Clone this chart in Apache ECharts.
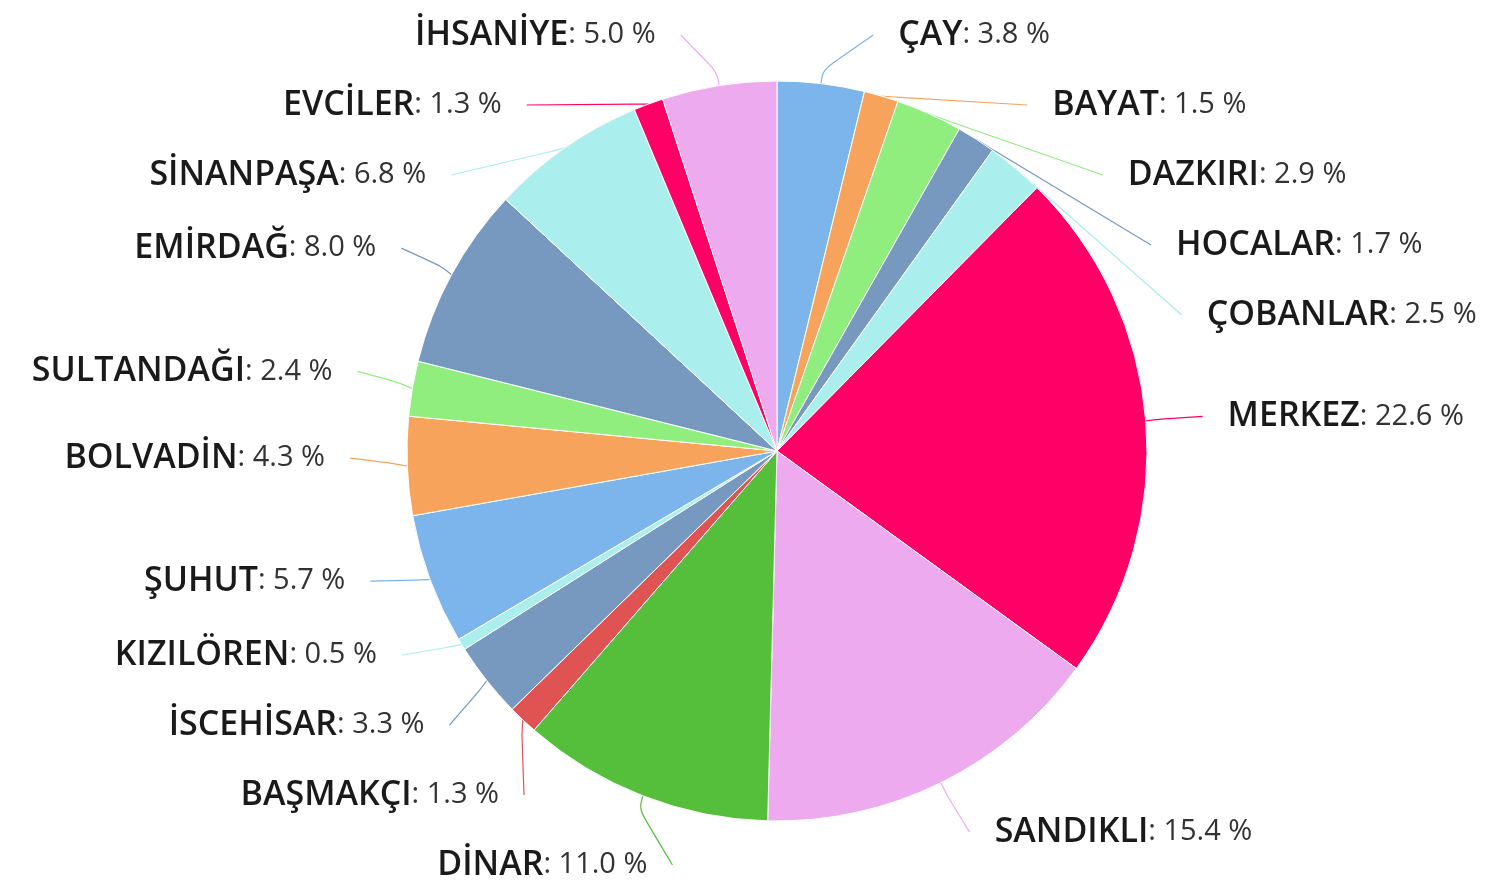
<!DOCTYPE html>
<html lang="tr">
<head>
    <meta charset="UTF-8">
    <title>Pie</title>
    <script src="https://cdn.jsdelivr.net/npm/echarts@6/dist/echarts.min.js"></script>
    <style>
        html, body { margin: 0; padding: 0; background: #fff; overflow: hidden; }
        #main { width: 1501px; height: 880px; }
    </style>
</head>
<body>
<div id="main"></div>
<script type="text/javascript">
    // ilçe adları (saat yönünde, tepeden başlayarak)
    var districts = ['ÇAY', 'BAYAT', 'DAZKIRI', 'HOCALAR', 'ÇOBANLAR', 'MERKEZ', 'SANDIKLI', 'DİNAR',
        'BAŞMAKÇI', 'İSCEHİSAR', 'KIZILÖREN', 'ŞUHUT', 'BOLVADİN', 'SULTANDAĞI', 'EMİRDAĞ',
        'SİNANPAŞA', 'EVCİLER', 'İHSANİYE'];
    // yüzde payları
    var shares = [3.8, 1.5, 2.9, 1.7, 2.5, 22.6, 15.4, 11.0, 1.3, 3.3, 0.5, 5.7, 4.3, 2.4, 8.0, 6.8, 1.3, 5.0];

    var palette = ['#7cb5ec', '#f7a35c', '#90ee7e', '#7798BF', '#aaeeee', '#ff0066',
        '#eeaaee', '#55BF3B', '#DF5353', '#7798BF', '#aaeeee'];

    var pieData = districts.map(function (name, i) {
        return { name: name, value: shares[i] };
    });

    // pasta merkezi ve etiket çemberi
    var CX = 777, CY = 451, RAD = 370;
    var LABEL_R = 427, GAP = 25;
    var TOP_OFF = 16;

    var myChart = echarts.init(document.getElementById('main'));

    var option = {
        backgroundColor: '#fff',
        color: palette,
        animation: false,
        series: [
            {
                type: 'pie',
                top: -TOP_OFF,
                bottom: -20,
                center: [CX, CY + TOP_OFF],
                radius: RAD,
                startAngle: 90,
                clockwise: true,
                avoidLabelOverlap: true,
                itemStyle: {
                    borderColor: '#fff',
                    borderWidth: 1
                },
                label: {
                    show: true,
                    position: 'outside',
                    alignTo: 'none',
                    distanceToLabelLine: 15,
                    lineHeight: 68,
                    formatter: function (p) {
                        return '{n|' + p.name + '}{v|: ' + p.value.toFixed(1) + ' %}';
                    },
                    rich: {
                        n: {
                            fontFamily: 'Open Sans',
                            fontWeight: 600,
                            fontSize: 34,
                            color: '#1a1a1a',
                            lineHeight: 68
                        },
                        v: {
                            fontFamily: 'Open Sans',
                            fontWeight: 'normal',
                            fontSize: 29,
                            color: '#333',
                            lineHeight: 68
                        }
                    }
                },
                labelLine: {
                    show: true,
                    length: 55,
                    length2: 12,
                    smooth: 0.35,
                    lineStyle: { width: 1.2 }
                },
                // etiketleri dış çember üzerine yerleştir (highcharts tarzı)
                labelLayout: function (params) {
                    var pts = params.labelLinePoints;
                    var rect = params.labelRect;
                    if (!pts) return {};
                    var isLeft = pts[2][0] < pts[0][0];
                    var y = rect.y + rect.height / 2;
                    var dy = y - CY;
                    var dx = Math.sqrt(Math.max(LABEL_R * LABEL_R - dy * dy, 0));
                    var ax = isLeft ? CX - dx : CX + dx;
                    var ux = pts[1][0] - pts[0][0], uy = pts[1][1] - pts[0][1];
                    var ul = Math.sqrt(ux * ux + uy * uy) || 1;
                    var mid = [pts[0][0] + ux / ul * 14, pts[0][1] + uy / ul * 14];
                    return {
                        x: isLeft ? ax - GAP : ax + GAP,
                        y: y,
                        align: isLeft ? 'right' : 'left',
                        verticalAlign: 'middle',
                        labelLinePoints: [pts[0], mid, [ax, y]]
                    };
                },
                data: pieData
            }
        ]
    };

    myChart.setOption(option);
</script>
</body>
</html>
